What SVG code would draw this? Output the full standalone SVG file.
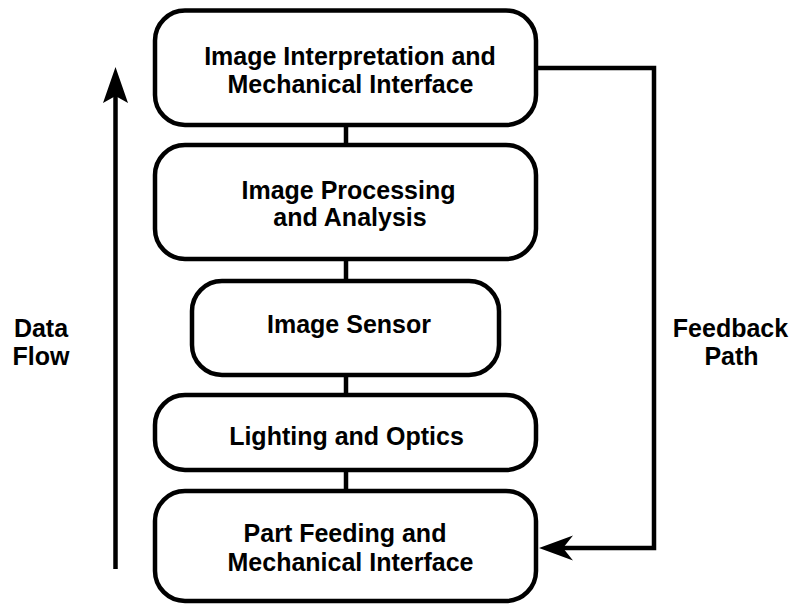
<svg xmlns="http://www.w3.org/2000/svg" width="793" height="605" viewBox="0 0 793 605">
  <style>
    .box { fill: #fff; stroke: #000; stroke-width: 4.5; }
    .lbl { font-family: "Liberation Sans", Arial, sans-serif; font-weight: bold; font-size: 25px; fill: #000; text-anchor: middle; }
    .wire { fill: none; stroke: #000; stroke-width: 4.5; stroke-linejoin: miter; }
    .head { fill: #000; stroke: none; }
  </style>
  <rect width="793" height="605" fill="#fff"/>

  <!-- connectors -->
  <g id="connectors">
    <line class="wire" x1="346" y1="125" x2="346" y2="145"/>
    <line class="wire" x1="346" y1="259" x2="346" y2="281"/>
    <line class="wire" x1="346" y1="375" x2="346" y2="395"/>
    <line class="wire" x1="346" y1="470" x2="346" y2="491"/>
    <!-- feedback path -->
    <polyline class="wire" points="536,68 654,68 654,548 560,548"/>
    <polygon class="head" points="539,548 573,535.5 563,548 573,560.5"/>
    <!-- data flow arrow -->
    <line class="wire" x1="115.5" y1="569" x2="115.5" y2="92"/>
    <polygon class="head" points="115.5,67 128,103 115.5,96 103,103"/>
  </g>

  <g id="n1">
    <rect class="box" x="155" y="10.5" width="381" height="114.5" rx="30"/>
    <text class="lbl" x="350" y="65">Image Interpretation and</text>
    <text class="lbl" x="350.5" y="92.5">Mechanical Interface</text>
  </g>
  <g id="n2">
    <rect class="box" x="155" y="145" width="381" height="114" rx="30"/>
    <text class="lbl" x="348.5" y="198.5">Image Processing</text>
    <text class="lbl" x="350" y="226">and Analysis</text>
  </g>
  <g id="n3">
    <rect class="box" x="192" y="281" width="307" height="94" rx="30"/>
    <text class="lbl" x="349" y="333">Image Sensor</text>
  </g>
  <g id="n4">
    <rect class="box" x="155" y="395" width="381" height="75" rx="30"/>
    <text class="lbl" x="346.5" y="445">Lighting and Optics</text>
  </g>
  <g id="n5">
    <rect class="box" x="155" y="491" width="381" height="110" rx="30"/>
    <text class="lbl" x="345" y="542">Part Feeding and</text>
    <text class="lbl" x="350.5" y="571">Mechanical Interface</text>
  </g>

  <g id="side-labels">
    <text class="lbl" x="41" y="337">Data</text>
    <text class="lbl" x="41" y="365">Flow</text>
    <text class="lbl" x="730.5" y="337">Feedback</text>
    <text class="lbl" x="731.5" y="365">Path</text>
  </g>
</svg>
